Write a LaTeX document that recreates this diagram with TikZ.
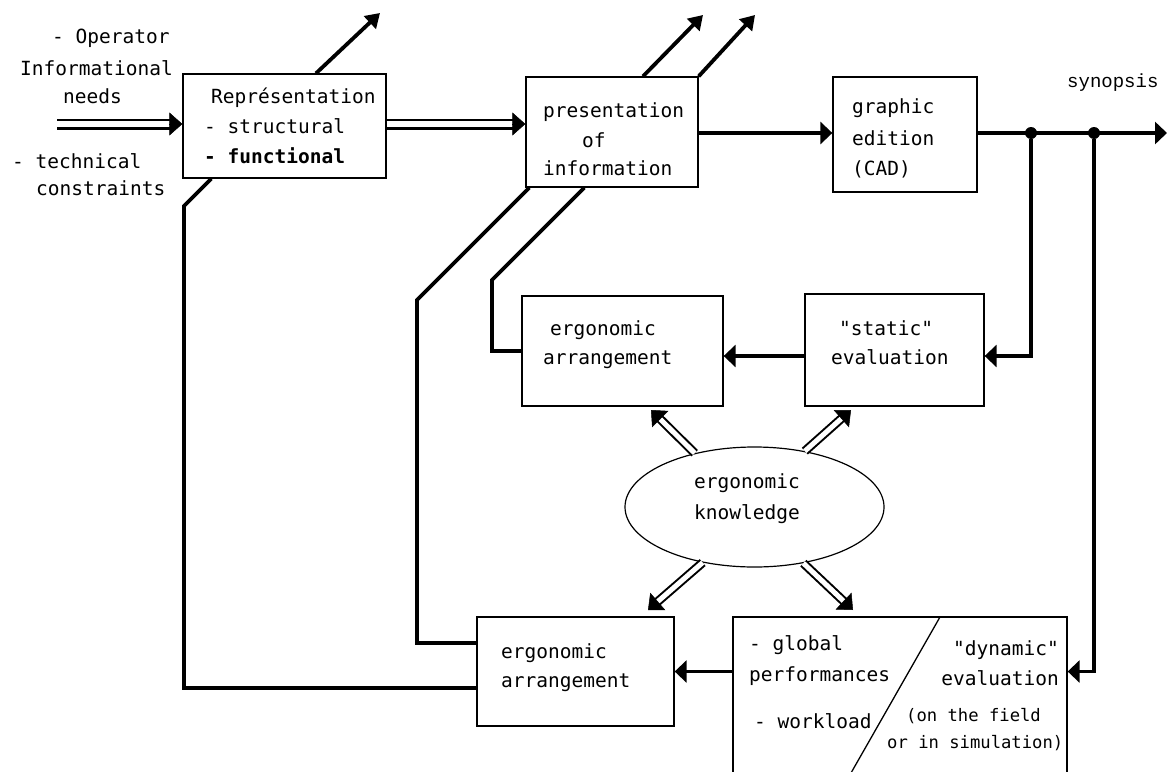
\documentclass[tikz,border=0pt]{standalone}
\usepackage{fontspec}
\setmainfont{DejaVu Sans Mono}
\newfontfamily\synfont{Liberation Mono}
\usetikzlibrary{arrows.meta,calc,shapes.geometric}
\begin{document}
\begin{tikzpicture}[x=1pt,y=-1pt,
  box/.style={draw, line width=1.3pt, rectangle, inner sep=0pt},
  txt/.style={inner sep=0pt, anchor=base west, font=\fontsize{19.5}{23}\selectfont},
  txtr/.style={txt, anchor=base east},
  txtc/.style={txt, anchor=base},
  small/.style={font=\fontsize{17.2}{20}\selectfont},
  con/.style={line width=3.8pt},
  arr/.style={con, -{Triangle[length=12pt,width=22pt]}},
  darr/.style={con, -{Triangle[length=14pt,width=17pt]}},
  dblA/.style={double, double distance=6pt, line width=2.5pt, shorten >=12pt},
  dblB/.style={double, double distance=5pt, line width=2pt, shorten >=12pt},
  dtip/.style={line width=0.5pt, -{Triangle[length=13pt,width=23pt]}},
  dot/.style={circle, fill, inner sep=0pt, minimum size=12pt}
]
\clip (0,0) rectangle (1167,771);
\fill[white] (0,0) rectangle (1167,771);

% boxes
\node[box, minimum width=203pt, minimum height=104pt] (rep) at (284.5,126) {};
\node[box, minimum width=172pt, minimum height=110pt] (pres) at (612,132) {};
\node[box, minimum width=144pt, minimum height=115pt] (graph) at (905,134.5) {};
\node[box, minimum width=201pt, minimum height=110pt] (uerg) at (622.5,351) {};
\node[box, minimum width=179pt, minimum height=112pt] (stat) at (894.5,350) {};
\node[box, minimum width=197pt, minimum height=109pt] (lerg) at (575.5,671.5) {};
\node[box, minimum width=334pt, minimum height=183pt] (dyn) at (900,708.5) {};
\node[draw, ellipse, line width=1.2pt, minimum width=259pt, minimum height=120pt, inner sep=0pt] (ell) at (754.5,507) {};

% left texts
\node[txt] (t1) at (52,43) {- Operator};
\node[txt] (t2) at (20,75) {Informational};
\node[txt] (t3) at (63,103) {needs};
\node[txt] (t4) at (12,168) {- technical};
\node[txt] (t5) at (36,195) {constraints};

% representation
\node[txt] (r1) at (211,103) {Représentation};
\node[txt] (r2) at (204,133) {- structural};
\node[txt, font=\fontsize{19.5}{23}\bfseries] (r3) at (204,163) {- functional};

% presentation
\node[txt] (p1) at (543,117) {presentation};
\node[txt] (p2) at (582,147) {of};
\node[txt] (p3) at (543,175) {information};

% graphic edition
\node[txt] (g1) at (852,113) {graphic};
\node[txt] (g2) at (852,145) {edition};
\node[txt] (g3) at (852,175) {(CAD)};

\node[txt, font=\synfont\fontsize{19}{22}\selectfont] (syn) at (1067,87) {synopsis};

% upper ergonomic / static
\node[txt] (u1) at (550,335) {ergonomic};
\node[txt] (u2) at (543,364) {arrangement};
\node[txt] (s1) at (839,335) {\textquotedbl static\textquotedbl};
\node[txt] (s2) at (831,364) {evaluation};

% ellipse
\node[txtc] (k1) at (747,488) {ergonomic};
\node[txtc] (k2) at (747,519) {knowledge};

% lower ergonomic
\node[txt] (l1) at (501,658) {ergonomic};
\node[txt] (l2) at (501,687) {arrangement};

% dynamic
\node[txt] (y1) at (749,650) {- global};
\node[txt] (y2) at (749,681) {performances};
\node[txt] (y3) at (754,728) {- workload};
\node[txtr] (y4) at (1059,655) {\textquotedbl dynamic\textquotedbl};
\node[txtr] (y5) at (1059,685) {evaluation};
\node[txt, small] (y6) at (906,721) {(on the field};
\node[txt, small] (y7) at (887,748) {or in simulation)};
\draw[line width=1.3pt] ($(dyn.north west)+(208,0)$) -- (843,787);

% coordinates
\coordinate (in) at (57,124);
\coordinate (out) at (1167,133);
\coordinate (o1) at (380,13);
\coordinate (o2) at (703,15);
\coordinate (o3) at (755,15);
\node[dot] (d1) at (1031,133) {};
\node[dot] (d2) at (1094,133) {};
\coordinate (a1) at (651,410);
\coordinate (a2) at (851,410);
\coordinate (a3) at (648,610);
\coordinate (a4) at (853,610);

% double arrows
\draw[dblA] (in) -- (rep.west |- in);
\draw[dtip] ($(rep.west |- in)!13pt!(in)$) -- (rep.west |- in);
\draw[dblA] (rep.east |- in) -- (pres.west |- in);
\draw[dtip] ($(pres.west |- in)!13pt!(rep.east |- in)$) -- (pres.west |- in);

\draw[dblB] (ell.138) -- (a1);
\draw[dtip] ($(a1)!13pt!(ell.138)$) -- (a1);
\draw[dblB] (ell.48) -- (a2);
\draw[dtip] ($(a2)!13pt!(ell.48)$) -- (a2);
\draw[dblB] (ell.-133) -- (a3);
\draw[dtip] ($(a3)!13pt!(ell.-133)$) -- (a3);
\draw[dblB] (ell.-49) -- (a4);
\draw[dtip] ($(a4)!13pt!(ell.-49)$) -- (a4);

% thick arrows
\draw[arr] (pres.east |- d1) -- (graph.west |- d1);
\draw[arr] (graph.east |- d1) -- (out);
\draw[arr] (d1) |- ([yshift=-6pt]stat.east);
\draw[arr] ([yshift=-6pt]stat.west) -- ([yshift=-5pt]uerg.east);
\draw[arr] (d2) |- (dyn.east |- lerg.east);
\draw[arr] (dyn.west |- lerg.east) -- (lerg.east);

\draw[darr] ($(rep.north)+(31.5,0)$) -- (o1);
\draw[darr] ($(pres.north)+(31,0)$) -- (o2);
\draw[darr] (pres.north east) -- (o3);

% feedback lines
\draw[con] ($(rep.south west)+(29,0)$) -- (184,206) |- ([yshift=-16.5pt]lerg.west);
\draw[con] ($(pres.south west)+(4,0)$) -- (417,300) |- ([yshift=28.5pt]lerg.west);
\draw[con] ($(pres.south west)+(59,0)$) -- (492,280) |- (uerg.west);
\end{tikzpicture}
\end{document}
